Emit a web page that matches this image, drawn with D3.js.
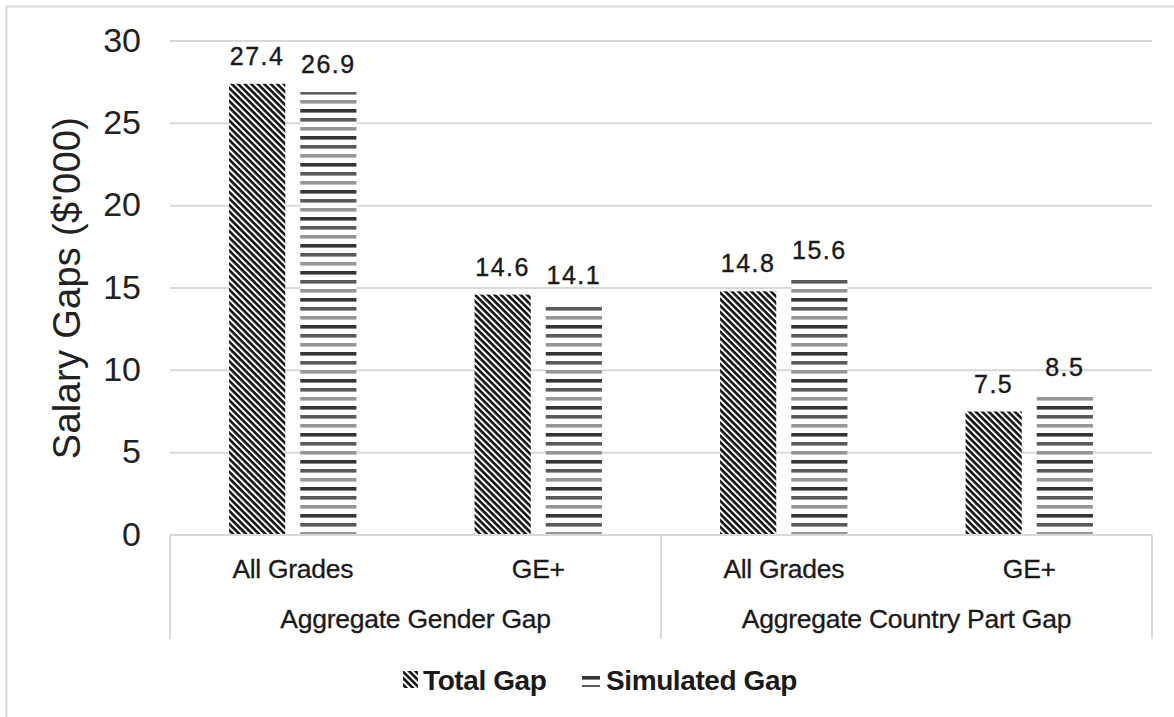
<!DOCTYPE html>
<html>
<head>
<meta charset="utf-8">
<script src="https://cdn.jsdelivr.net/npm/d3@7"></script>
<style>
  html, body { margin: 0; padding: 0; background: #fff; }
  svg { display: block; }
</style>
</head>
<body>
<svg id="chart" width="1174" height="717"></svg>
<script>
// Salary gap data ($'000)
const groups = ["Aggregate Gender Gap", "Aggregate Country Part Gap"];
const categories = ["All Grades", "GE+"];
const seriesNames = ["Total Gap", "Simulated Gap"];
const totalGap = [27.4, 14.6, 14.8, 7.5];
const simulatedGap = [26.9, 14.1, 15.6, 8.5];
const yTicks = [0, 5, 10, 15, 20, 25, 30];

(function () {
const svg = d3.select("#chart");
const W = 1174, H = 717;
const plotLeft = 170, plotRight = 1152, plotTop = 41, plotBottom = 535;
const sans = "Liberation Sans, Arial, sans-serif";

// Outer frame (left and top edges)
svg.append("path")
  .attr("d", `M6.5,${H} L6.5,6.5 L${W},6.5`)
  .attr("fill", "none").attr("stroke", "#d9d9d9").attr("stroke-width", 2);

// Patterns: dense back-diagonal hatch and horizontal rules
const defs = svg.append("defs");
const diag = defs.append("pattern")
  .attr("id", "pat-total").attr("patternUnits", "userSpaceOnUse")
  .attr("width", 4.6).attr("height", 4.6)
  .attr("patternTransform", "rotate(45)");
diag.append("rect").attr("width", 4.6).attr("height", 4.6).attr("fill", "#fff");
diag.append("rect").attr("x", 0).attr("y", 0).attr("width", 4.6).attr("height", 2.6).attr("fill", "#111");

const horiz = defs.append("pattern")
  .attr("id", "pat-sim").attr("patternUnits", "userSpaceOnUse")
  .attr("width", 10).attr("height", 27).attr("y", 1);
horiz.append("rect").attr("width", 10).attr("height", 27).attr("fill", "#fff");
[["#353535", 0], ["#5a5a5a", 9], ["#969696", 18]].forEach(([c, yy]) => {
  horiz.append("rect").attr("x", 0).attr("y", yy).attr("width", 10).attr("height", 3.6).attr("fill", c);
});

// Scales
const rows = [];
groups.forEach((g, gi) => categories.forEach((c, ci) => rows.push({ g, c, key: g + "|" + c, i: gi * 2 + ci })));
const x = d3.scaleBand().domain(rows.map(r => r.key)).range([plotLeft, plotRight]).paddingInner(0).paddingOuter(0);
const xs = d3.scaleBand().domain(seriesNames).range([0, x.bandwidth()]).paddingInner(0.211).paddingOuter(0.83);
const y = d3.scaleLinear().domain([0, 30]).range([plotBottom, plotTop]);

// Gridlines
svg.append("g").selectAll("line").data(yTicks.filter(t => t > 0)).join("line")
  .attr("x1", plotLeft).attr("x2", plotRight)
  .attr("y1", d => y(d)).attr("y2", d => y(d))
  .attr("stroke", "#d9d9d9").attr("stroke-width", 2);

// Y axis tick labels
const yAxis = d3.axisLeft(y).tickValues(yTicks).tickSize(0).tickPadding(0);
const yg = svg.append("g").attr("transform", `translate(141,0)`).call(yAxis);
yg.select(".domain").remove();
yg.selectAll("text")
  .attr("font-family", sans)
  .attr("font-size", 34).attr("fill", "#222").attr("dy", "0.3em");

// Y axis title
svg.append("text")
  .attr("transform", `translate(80,${(plotTop + plotBottom) / 2}) rotate(-90)`)
  .attr("text-anchor", "middle")
  .attr("font-family", sans)
  .attr("font-size", 38).attr("letter-spacing", 0.3).attr("fill", "#222")
  .text("Salary Gaps ($'000)");

// Bars
const values = [totalGap, simulatedGap];
const pats = ["url(#pat-total)", "url(#pat-sim)"];
const barData = [];
rows.forEach(r => seriesNames.forEach((s, si) => barData.push({ r, s, si, v: values[si][r.i] })));

svg.append("g").selectAll("rect").data(barData).join("rect")
  .attr("x", d => x(d.r.key) + xs(d.s))
  .attr("width", xs.bandwidth())
  .attr("y", d => y(d.v))
  .attr("height", d => y(0) - y(d.v))
  .attr("fill", d => pats[d.si]);

// Value labels
svg.append("g").selectAll("text").data(barData).join("text")
  .attr("x", d => x(d.r.key) + xs(d.s) + xs.bandwidth() / 2)
  .attr("y", d => y(d.v) - 19)
  .attr("text-anchor", "middle")
  .attr("font-family", sans)
  .attr("font-size", 25).attr("letter-spacing", 1.5).attr("fill", "#1a1a1a")
  .attr("stroke", "#1a1a1a").attr("stroke-width", 0.4)
  .text(d => d.v.toFixed(1));

// Category axis box
const axisG = svg.append("g");
axisG.append("line").attr("x1", plotLeft).attr("x2", plotRight).attr("y1", plotBottom).attr("y2", plotBottom)
  .attr("stroke", "#d9d9d9").attr("stroke-width", 2);
const sepX = [plotLeft, x(rows[2].key), plotRight];
axisG.selectAll("line.sep").data(sepX).join("line").attr("class", "sep")
  .attr("x1", d => d).attr("x2", d => d).attr("y1", plotBottom).attr("y2", 639)
  .attr("stroke", "#d9d9d9").attr("stroke-width", 2);

axisG.selectAll("text.cat").data(rows).join("text").attr("class", "cat")
  .attr("x", d => x(d.key) + x.bandwidth() / 2)
  .attr("y", 578)
  .attr("text-anchor", "middle")
  .attr("font-family", sans).attr("font-size", 26.5).attr("letter-spacing", -0.3).attr("fill", "#1a1a1a")
  .attr("stroke", "#1a1a1a").attr("stroke-width", 0.3)
  .text(d => d.c);

axisG.selectAll("text.grp").data(groups).join("text").attr("class", "grp")
  .attr("x", (d, i) => (sepX[i] + sepX[i + 1]) / 2)
  .attr("y", 628)
  .attr("text-anchor", "middle")
  .attr("font-family", sans).attr("font-size", 26.5).attr("letter-spacing", -0.25).attr("fill", "#1a1a1a")
  .attr("stroke", "#1a1a1a").attr("stroke-width", 0.3)
  .text(d => d);

// Legend
const legend = svg.append("g");
const legendItems = [
  { name: seriesNames[0], sx: 403, sy: 671, sw: 15, sh: 17, tx: 423, pat: pats[0] },
  { name: seriesNames[1], sx: 582, sy: 675, sw: 18, sh: 12, tx: 606, pat: pats[1] }
];
legend.selectAll("rect").data(legendItems).join("rect")
  .attr("x", d => d.sx).attr("y", d => d.sy).attr("width", d => d.sw).attr("height", d => d.sh)
  .attr("fill", d => d.pat);
legend.selectAll("text").data(legendItems).join("text")
  .attr("x", d => d.tx).attr("y", 690)
  .attr("font-family", sans).attr("font-size", 28).attr("font-weight", "bold")
  .attr("letter-spacing", -0.4).attr("fill", "#1a1a1a")
  .text(d => d.name);
})();
</script>
</body>
</html>
